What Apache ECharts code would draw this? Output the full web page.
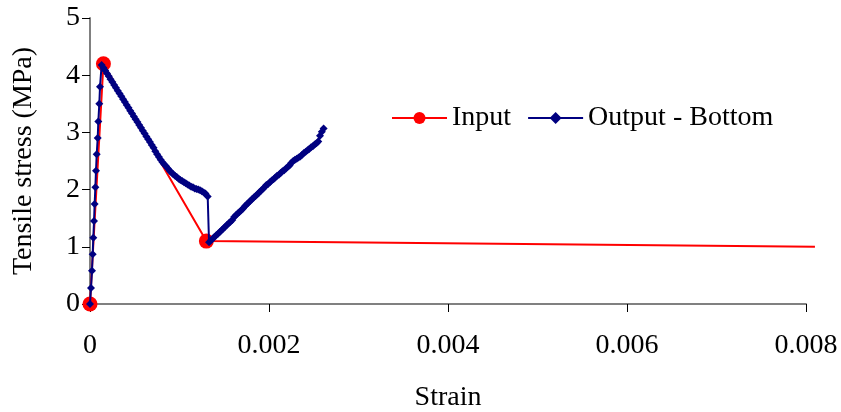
<!DOCTYPE html>
<html>
<head>
<meta charset="utf-8">
<script src="https://cdn.jsdelivr.net/npm/echarts@6/dist/echarts.min.js"></script>
<style>
html,body{margin:0;padding:0;background:#fff;}
#chart{width:841px;height:412px;}
</style>
</head>
<body>
<div id="chart"></div>
<script>
// ---- data ----
var xTicks = [0, 0.002, 0.004, 0.006, 0.008];
var yTicks = [0, 1, 2, 3, 4, 5];
var seriesNames = ['Input', 'Output - Bottom'];

var inputStrain = [0, 0.00015, 0.0013, 0.0081];
var inputStress = [0, 4.2, 1.1, 1.0];

var outputStrain = [
  0, 0.0000112, 0.0000223, 0.00003, 0.000037, 0.000045, 0.000052, 0.00006, 0.000067, 0.000075,
  0.000086, 0.000093, 0.000104, 0.000112, 0.00013,
  0.00015, 0.00017, 0.00019, 0.00021, 0.00023, 0.00025, 0.00027, 0.00029, 0.00031, 0.00033,
  0.00035, 0.00037, 0.00039, 0.00041, 0.00043, 0.00045, 0.00047, 0.00049, 0.00051, 0.00053,
  0.00055, 0.00057, 0.00059, 0.00061, 0.00063, 0.00065, 0.00067, 0.00069, 0.00071, 0.00073,
  0.00075, 0.00077, 0.00079, 0.00081, 0.00083, 0.00085, 0.00087, 0.00089, 0.00091, 0.00093,
  0.00095, 0.00097, 0.00099, 0.00101, 0.00103, 0.00105, 0.00107, 0.00109, 0.00111, 0.00113,
  0.00115, 0.00117, 0.00119, 0.00121, 0.00123, 0.00125, 0.00127, 0.00129, 0.001315,
  0.00133, 0.00135, 0.00137, 0.00139, 0.00141, 0.00143, 0.00145, 0.00147, 0.00149, 0.00151,
  0.00153, 0.00155, 0.00157, 0.00159, 0.00161, 0.00163, 0.00165, 0.00167, 0.00169, 0.00171,
  0.00173, 0.00175, 0.00177, 0.00179, 0.00181, 0.00183, 0.00185, 0.00187, 0.00189, 0.00191,
  0.00193, 0.00195, 0.00197, 0.00199, 0.00201, 0.00203, 0.00205, 0.00207, 0.00209, 0.00211,
  0.00213, 0.00215, 0.00217, 0.00219, 0.00221, 0.00223, 0.00225, 0.00227, 0.00229, 0.00231,
  0.00233, 0.00235, 0.00237, 0.00239, 0.00241, 0.00243, 0.00245, 0.00247, 0.00249, 0.00251,
  0.00253, 0.00255, 0.00257, 0.00259, 0.00261
];
var outputStress = [
  0, 0.28, 0.58, 0.87, 1.16, 1.45, 1.75, 2.04, 2.33, 2.62,
  2.90, 3.19, 3.50, 3.80, 4.18,
  4.13, 4.08, 4.03, 3.98, 3.93, 3.88, 3.83, 3.78, 3.73, 3.68,
  3.63, 3.58, 3.53, 3.48, 3.43, 3.38, 3.33, 3.28, 3.23, 3.18,
  3.13, 3.08, 3.03, 2.98, 2.93, 2.88, 2.83, 2.78, 2.73, 2.67,
  2.62, 2.57, 2.52, 2.48, 2.44, 2.41, 2.37, 2.33, 2.30, 2.27,
  2.24, 2.22, 2.19, 2.17, 2.15, 2.13, 2.11, 2.09, 2.07, 2.05,
  2.04, 2.02, 2.01, 2.00, 1.99, 1.97, 1.95, 1.93, 1.88,
  1.08, 1.11, 1.14, 1.17, 1.20, 1.23, 1.26, 1.29, 1.32, 1.35,
  1.38, 1.41, 1.44, 1.47, 1.52, 1.55, 1.58, 1.61, 1.64, 1.67,
  1.71, 1.74, 1.77, 1.80, 1.83, 1.86, 1.89, 1.92, 1.95, 1.98,
  2.01, 2.04, 2.08, 2.10, 2.13, 2.16, 2.18, 2.21, 2.24, 2.26,
  2.29, 2.32, 2.34, 2.37, 2.40, 2.42, 2.47, 2.50, 2.52, 2.54,
  2.56, 2.58, 2.61, 2.64, 2.66, 2.69, 2.71, 2.74, 2.76, 2.79,
  2.81, 2.84, 2.94, 3.01, 3.07
];

// ---- chart ----
function pairs(xs, ys) { return xs.map(function (x, i) { return [x, ys[i]]; }); }
var FONT = "'Liberation Serif', 'Times New Roman', serif";
var FS = 28;

var inputData = pairs(inputStrain, inputStress).map(function (p, i, arr) {
  // the tail end of the input curve carries no marker
  return i === arr.length - 1 ? { value: p, symbol: 'none' } : p;
});

// Visible axes live in grid 0 (0..0.008). The data are plotted in grid 1, whose
// hidden x axis spans 0..0.0081 over a wider box so that the same scale holds
// and the input curve can run slightly past the last tick, as in the original.
var X_AXIS_MAX = xTicks[xTicks.length - 1];
var X_DATA_MAX = 0.0081;
var GRID_LEFT = 90, GRID_RIGHT = 35, GRID_TOP = 18, GRID_BOTTOM = 108;
var CHART_W = 841;
var plotW = CHART_W - GRID_LEFT - GRID_RIGHT;
var dataRight = CHART_W - GRID_LEFT - plotW * X_DATA_MAX / X_AXIS_MAX;

var chart = echarts.init(document.getElementById('chart'), null, { renderer: 'canvas' });
chart.setOption({
  animation: false,
  backgroundColor: '#ffffff',
  grid: [
    { left: GRID_LEFT, right: GRID_RIGHT, top: GRID_TOP, bottom: GRID_BOTTOM, containLabel: false, outerBoundsMode: 'none' },
    { left: GRID_LEFT, right: dataRight, top: GRID_TOP, bottom: GRID_BOTTOM, containLabel: false, outerBoundsMode: 'none' }
  ],
  legend: {
    left: 386, top: 99,
    itemWidth: 55, itemHeight: 15, itemGap: 16,
    textStyle: { fontFamily: FONT, fontSize: FS, color: '#000', padding: [0, 0, 0, 0] },
    data: [
      { name: seriesNames[0] },
      { name: seriesNames[1] }
    ]
  },
  xAxis: [
    {
      type: 'value', gridIndex: 0,
      min: xTicks[0], max: X_AXIS_MAX, interval: 0.002,
      name: 'Strain', nameLocation: 'middle', nameGap: 80,
      nameTextStyle: { fontFamily: FONT, fontSize: FS, color: '#000' },
      axisLine: { show: true, lineStyle: { color: '#808080', width: 2 } },
      axisTick: { show: true, inside: false, length: 8, lineStyle: { color: '#000', width: 1 } },
      axisLabel: { fontFamily: FONT, fontSize: FS, color: '#000', margin: 28,
        formatter: function (v) { return xTicks.indexOf(v) >= 0 ? String(v) : ''; } },
      splitLine: { show: false }
    },
    {
      type: 'value', gridIndex: 1, show: false,
      min: xTicks[0], max: X_DATA_MAX,
      splitLine: { show: false }
    }
  ],
  yAxis: [
    {
      type: 'value', gridIndex: 0,
      min: yTicks[0], max: yTicks[yTicks.length - 1], interval: 1,
      name: 'Tensile stress (MPa)', nameLocation: 'middle', nameGap: 52,
      nameTextStyle: { fontFamily: FONT, fontSize: FS, color: '#000' },
      axisLine: { show: true, lineStyle: { color: '#808080', width: 2 } },
      axisTick: { show: true, inside: false, length: 8, lineStyle: { color: '#000', width: 1 } },
      axisLabel: { fontFamily: FONT, fontSize: FS, color: '#000', margin: 10 },
      splitLine: { show: false }
    },
    {
      type: 'value', gridIndex: 1, show: false,
      min: yTicks[0], max: yTicks[yTicks.length - 1],
      splitLine: { show: false }
    }
  ],
  series: [
    {
      name: seriesNames[0], type: 'line',
      xAxisIndex: 1, yAxisIndex: 1,
      data: inputData,
      symbol: 'circle', symbolSize: 15,
      clip: false,
      lineStyle: { color: '#ff0000', width: 2 },
      itemStyle: { color: '#ff0000' },
      z: 2
    },
    {
      name: seriesNames[1], type: 'line',
      xAxisIndex: 1, yAxisIndex: 1,
      data: pairs(outputStrain, outputStress),
      symbol: 'diamond', symbolSize: 8,
      clip: false,
      lineStyle: { color: '#000080', width: 2 },
      itemStyle: { color: '#000080' },
      z: 3
    }
  ]
});
</script>
</body>
</html>
